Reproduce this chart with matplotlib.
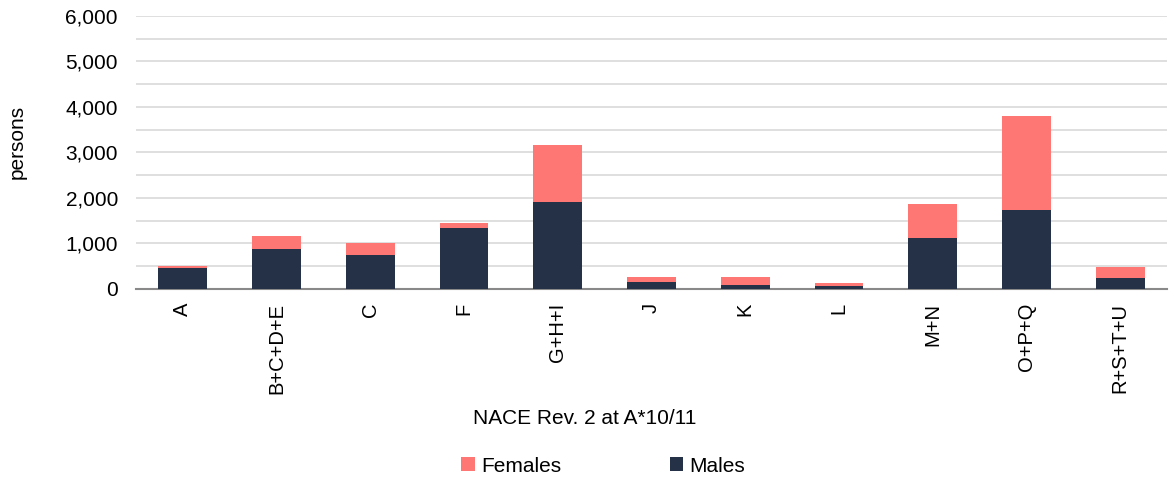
import numpy as np
import matplotlib
matplotlib.use("Agg")
import matplotlib.pyplot as plt
from matplotlib.ticker import FuncFormatter, MultipleLocator

plt.rcParams["font.family"] = ["Liberation Sans", "DejaVu Sans"]

categories = ["A", "B+C+D+E", "C", "F", "G+H+I", "J", "K", "L", "M+N", "O+P+Q", "R+S+T+U"]
males = [447, 872, 747, 1326, 1919, 161, 88, 66, 1121, 1729, 249]
females = [58, 285, 271, 124, 1231, 103, 183, 59, 754, 2073, 220]

MALE_COLOR = "#253147"
FEMALE_COLOR = "#FF7775"

fig = plt.figure(figsize=(11.69, 4.79), dpi=100)
ax = fig.add_axes([0.1163, 0.397, 0.8820, 0.570])

x = np.arange(len(categories))
ax.bar(x, males, width=0.52, color=MALE_COLOR, label="Males", zorder=3)
ax.bar(x, females, width=0.52, bottom=males, color=FEMALE_COLOR, label="Females", zorder=3)

ax.set_xlim(-0.5, len(categories) - 0.5)
ax.set_ylim(0, 6000)
ax.yaxis.set_major_locator(MultipleLocator(1000))
ax.yaxis.set_minor_locator(MultipleLocator(500))
ax.yaxis.set_major_formatter(FuncFormatter(lambda v, p: f"{int(v):,}"))
ax.grid(axis="y", which="both", color="#D9D9D9", linewidth=1.2, zorder=0)
ax.tick_params(axis="y", which="both", length=0, labelsize=15, pad=13)
ax.tick_params(axis="x", length=0, labelsize=14.5, pad=10)

ax.set_xticks(x)
ax.set_xticklabels(categories, rotation=90)

for s in ["top", "right", "left"]:
    ax.spines[s].set_visible(False)
ax.spines["bottom"].set_color("#898989")
ax.spines["bottom"].set_linewidth(1.5)

fig.text(0.0145, 0.703, "persons", rotation=90, ha="center", va="center", fontsize=15)
fig.text(0.5, 0.127, "NACE Rev. 2 at A*10/11", ha="center", va="center", fontsize=15)

handles, labels = ax.get_legend_handles_labels()
fig.legend(handles[::-1], labels[::-1], loc="center", bbox_to_anchor=(0.516, 0.027),
           ncol=2, frameon=False, fontsize=15, handlelength=0.65, handleheight=0.65,
           handletextpad=0.3, columnspacing=5.2)

fig.savefig("out.png", dpi=100)
